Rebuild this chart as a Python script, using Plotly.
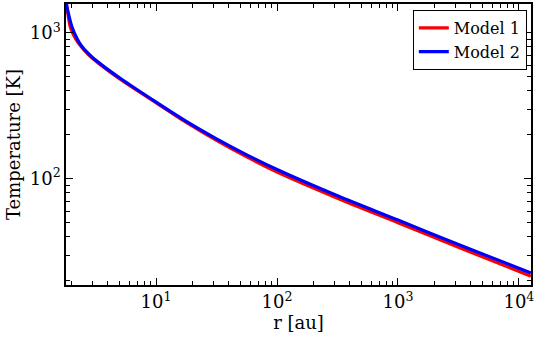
import plotly.graph_objects as go

# Model 1 (red)
r1 = [1.80, 1.832, 1.950, 2.080, 2.286, 2.767, 3.573, 5.224, 9.268, 17.78, 31.62, 56.23, 100, 316.2, 1000, 3162, 12560]
t1 = [1660, 1503, 1099, 964, 845, 706, 592, 471, 345, 243, 183, 141, 111.2, 73.6, 50.0, 33.9, 21.5]
# Model 2 (blue)
r2 = [1.80, 1.832, 2.014, 2.218, 2.438, 2.951, 3.573, 5.224, 9.268, 17.78, 31.62, 56.23, 100, 316.2, 1000, 3162, 12560]
t2 = [1622, 1503, 1099, 914, 804, 682, 600, 478, 349, 247, 187.5, 145.6, 115.6, 76.4, 52.1, 35.4, 22.6]

xtick_vals = [10, 100, 1000, 10000]
xtick_text = ["10<sup>1</sup>", "10<sup>2</sup>", "10<sup>3</sup>", "10<sup>4</sup>"]
ytick_vals = [100, 1000]
ytick_text = ["10<sup>2</sup>", "10<sup>3</sup>"]

font = "DejaVu Serif"
fig = go.Figure()
fig.add_trace(go.Scatter(x=r1, y=t1, mode="lines", name="Model 1",
                         line=dict(color="#ff0000", width=3.2, shape="spline", smoothing=0.8)))
fig.add_trace(go.Scatter(x=r2, y=t2, mode="lines", name="Model 2",
                         line=dict(color="#0000ff", width=3.2, shape="spline", smoothing=0.8)))

axis_common = dict(showline=True, linecolor="black", linewidth=1.5, mirror="ticks",
                   ticks="inside", ticklen=7, tickwidth=1, tickcolor="black",
                   showgrid=False, zeroline=False, tickmode="array",
                   tickfont=dict(family=font, size=18, color="black"),
                   minor=dict(ticks="inside", ticklen=4, tickwidth=1, tickcolor="black",
                              dtick="D1", showgrid=False))

fig.update_xaxes(type="log", range=[0.2553, 4.1], tickvals=xtick_vals, ticktext=xtick_text,
                 title=dict(text="r [au]", font=dict(family=font, size=18, color="black"), standoff=2),
                 **axis_common)
fig.update_yaxes(type="log", range=[1.272, 3.197], tickvals=ytick_vals, ticktext=ytick_text,
                 title=dict(text="Temperature [K]", font=dict(family=font, size=18, color="black"), standoff=4),
                 **axis_common)

fig.update_layout(width=539, height=338, margin=dict(l=66, r=8, t=2, b=53),
                  plot_bgcolor="white", paper_bgcolor="white",
                  font=dict(family=font, color="black"),
                  legend=dict(x=0.991, y=0.979, xanchor="right", yanchor="top",
                              bgcolor="white", bordercolor="black", borderwidth=1,
                              font=dict(family=font, size=16, color="black"),
                              tracegroupgap=0, itemwidth=30),
                  showlegend=True)

fig.write_html("out.html")
